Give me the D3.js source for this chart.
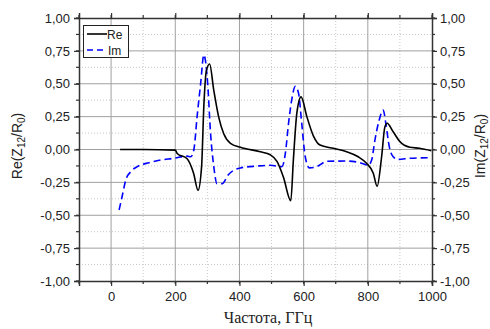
<!DOCTYPE html>
<html><head><meta charset="utf-8">
<script src="https://cdn.jsdelivr.net/npm/d3@7"></script>
<style>body{margin:0;background:#fff;}</style>
</head><body>
<svg id="c" width="490" height="329"></svg>
<script>
const reFreq = [28,100,200,206,237,257,271,282,289,297,307,320,335,351,372,403,465,496,517,537,560,568,579,592,610,631,651,693,734,770,796,817,829,843,853,860,879,900,931,961,998];
const reVal  = [0,0,-0.005,-0.03,-0.07,-0.18,-0.31,-0.13,0.33,0.6,0.65,0.45,0.25,0.12,0.047,0.017,-0.017,-0.04,-0.09,-0.21,-0.39,-0.08,0.28,0.40,0.25,0.10,0.034,0.009,-0.017,-0.055,-0.105,-0.18,-0.28,-0.055,0.17,0.20,0.135,0.06,0.017,0.009,-0.01];
const imFreq = [25,35,46,61,82,118,154,196,237,248,258,268,279,289,301,310,320,330,346,366,403,455,496,532,543,553,563,574,584,594,605,618,641,672,734,775,801,812,822,835,848,856,867,879,894,931,998];
const imVal  = [-0.46,-0.35,-0.23,-0.17,-0.13,-0.10,-0.08,-0.067,-0.05,-0.055,0,0.25,0.50,0.72,0.5,0.12,-0.13,-0.26,-0.26,-0.19,-0.14,-0.126,-0.12,-0.13,-0.03,0.2,0.38,0.48,0.43,0.2,-0.055,-0.14,-0.13,-0.09,-0.088,-0.10,-0.12,-0.08,0.07,0.22,0.30,0.20,0.02,-0.055,-0.075,-0.067,-0.062];
const xTicks = [0,200,400,600,800,1000];
const yTicks = [-1,-0.75,-0.5,-0.25,0,0.25,0.5,0.75,1];

const SANS = "'Liberation Sans', Arial, sans-serif";
const SERIF = "'Liberation Serif', 'Times New Roman', serif";
const svg = d3.select("#c");
const L=79, R=432, T=18, B=281;
const x = d3.scaleLinear().domain([-100,1000]).range([L,R]);
const y = d3.scaleLinear().domain([-1,1]).range([B,T]);
const fmt = v => d3.format(".2f")(v).replace(".",",").replace("−","-");

// minor grid
const xMinor = d3.range(100,1000,200);
const yMinor = d3.range(-0.875,1,0.25);
svg.append("g").selectAll("line").data(xMinor).join("line")
  .attr("x1",d=>x(d)).attr("x2",d=>x(d)).attr("y1",T).attr("y2",B)
  .attr("stroke","#c8c8c8").attr("stroke-dasharray","1,2");
svg.append("g").selectAll("line").data(yMinor).join("line")
  .attr("y1",d=>y(d)).attr("y2",d=>y(d)).attr("x1",L).attr("x2",R)
  .attr("stroke","#c8c8c8").attr("stroke-dasharray","1,2");
// major grid
svg.append("g").selectAll("line").data(xTicks.filter(d=>d<1000)).join("line")
  .attr("x1",d=>x(d)).attr("x2",d=>x(d)).attr("y1",T).attr("y2",B)
  .attr("stroke","#a0a0a0").attr("stroke-width",1);
svg.append("g").selectAll("line").data(yTicks.slice(1,-1)).join("line")
  .attr("y1",d=>y(d)).attr("y2",d=>y(d)).attr("x1",L).attr("x2",R)
  .attr("stroke","#a0a0a0").attr("stroke-width",1);

// lines
const line = (xs,vs) => d3.line().x((d,i)=>x(xs[i])).y(d=>y(d)).curve(d3.curveMonotoneX)(vs);
svg.append("path").attr("d",line(imFreq,imVal)).attr("fill","none")
  .attr("stroke","#0000ff").attr("stroke-width",1.6).attr("stroke-dasharray","7,4");
svg.append("path").attr("d",line(reFreq,reVal)).attr("fill","none")
  .attr("stroke","#000").attr("stroke-width",1.6);

// axes
function styleAxis(g){
  g.select(".domain").attr("stroke","#333").attr("stroke-width",1.5);
  g.selectAll(".tick line").attr("stroke","#333").attr("stroke-width",1.2);
  g.selectAll("text").style("font-size","13px").attr("fill","#222").style("font-family",SANS);
}
const minorX = d3.range(-100,1001,100);
const minorY = d3.range(-1,1.001,0.125);
function minorTicks(g, orient){
  const len=3;
  if(orient==="left"||orient==="right"){
    const dx = orient==="left"?-len:len, x0 = orient==="left"?L:R;
    g.selectAll("line.mn").data(minorY).join("line").attr("class","mn")
      .attr("x1",x0).attr("x2",x0+dx).attr("y1",d=>y(d)).attr("y2",d=>y(d))
      .attr("stroke","#333").attr("stroke-width",1.2);
  } else {
    const dy = orient==="bottom"?len:-len, y0 = orient==="bottom"?B:T;
    g.selectAll("line.mn").data(minorX).join("line").attr("class","mn")
      .attr("y1",y0).attr("y2",y0+dy).attr("x1",d=>x(d)).attr("x2",d=>x(d))
      .attr("stroke","#333").attr("stroke-width",1.2);
  }
}
const gl = svg.append("g").attr("transform",`translate(${L},0)`)
  .call(d3.axisLeft(y).tickValues(yTicks).tickFormat(fmt).tickSize(5).tickPadding(4));
styleAxis(gl);
const gr = svg.append("g").attr("transform",`translate(${R},0)`)
  .call(d3.axisRight(y).tickValues(yTicks).tickFormat(fmt).tickSize(5).tickPadding(3));
styleAxis(gr);
const gb = svg.append("g").attr("transform",`translate(0,${B})`)
  .call(d3.axisBottom(x).tickValues(xTicks).tickFormat(d3.format("d")).tickSize(5).tickPadding(6));
styleAxis(gb);
const gt = svg.append("g").attr("transform",`translate(0,${T})`)
  .call(d3.axisTop(x).tickValues(xTicks).tickFormat("").tickSize(5));
styleAxis(gt);
const mg = svg.append("g");
minorTicks(mg.append("g"),"left");minorTicks(mg.append("g"),"right");
minorTicks(mg.append("g"),"bottom");minorTicks(mg.append("g"),"top");

// titles
svg.append("text").attr("x",268).attr("y",323).attr("text-anchor","middle")
  .style("font-family",SERIF).style("font-size","16px").attr("fill","#222")
  .text("Частота, ГГц");
function yTitle(xp, name){
  const t = svg.append("text").attr("transform",`translate(${xp},146) rotate(-90)`)
    .attr("text-anchor","middle").style("font-size","14px").style("font-family",SANS).attr("fill","#222");
  t.append("tspan").text(name+"(Z");
  t.append("tspan").style("font-size","10px").attr("dy",3).text("12");
  t.append("tspan").attr("dy",-3).text("/R");
  t.append("tspan").style("font-size","10px").attr("dy",3).text("0");
  t.append("tspan").attr("dy",-3).text(")");
}
yTitle(22,"Re");
yTitle(485,"Im");

// legend
const lg = svg.append("g");
lg.append("rect").attr("x",83.5).attr("y",25.5).attr("width",45).attr("height",32)
  .attr("fill","#fff").attr("stroke","#222").attr("stroke-width",1);
lg.append("line").attr("x1",87).attr("x2",107).attr("y1",34).attr("y2",34).attr("stroke","#000").attr("stroke-width",1.6);
lg.append("line").attr("x1",87).attr("x2",107).attr("y1",50).attr("y2",50).attr("stroke","#0000ff").attr("stroke-width",1.6).attr("stroke-dasharray","6,4");
lg.append("text").attr("x",107).attr("y",38.5).style("font-size","12px").style("font-family",SANS).attr("fill","#222").text("Re");
lg.append("text").attr("x",108).attr("y",54.5).style("font-size","12px").style("font-family",SANS).attr("fill","#222").text("Im");
</script>
</body></html>
